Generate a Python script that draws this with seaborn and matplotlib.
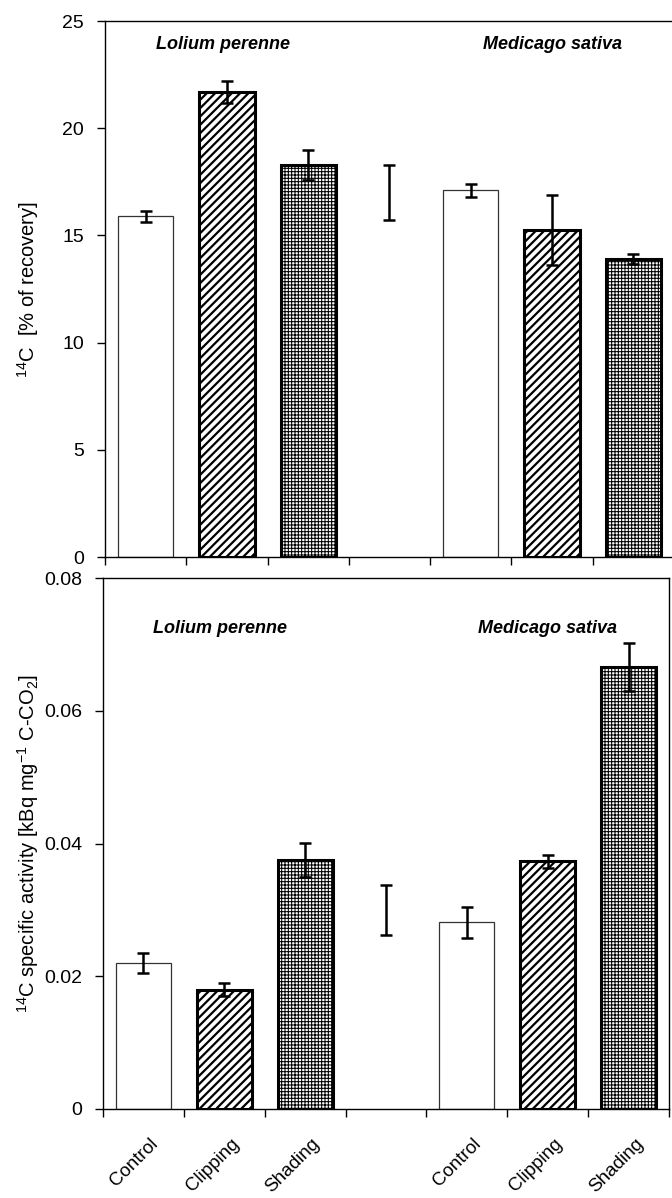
import numpy as np
import pandas as pd
import matplotlib
matplotlib.use("Agg")
import matplotlib.pyplot as plt
import matplotlib.transforms as mtransforms
import seaborn as sns

# data
slots = ["L_Control", "L_Clipping", "L_Shading", "gap", "M_Control", "M_Clipping", "M_Shading"]
treatments = ["Control", "Clipping", "Shading", "", "Control", "Clipping", "Shading"]
bar_slots = ["L_Control", "L_Clipping", "L_Shading", "M_Control", "M_Clipping", "M_Shading"]
hatches = ["", "////", "+++++", "", "////", "+++++"]

recovery = [15.9, 21.7, 18.3, 17.1, 15.25, 13.9]
recovery_err = [0.25, 0.5, 0.7, 0.3, 1.65, 0.25]
recovery_lsd = (17.0, 1.3)

activity = [0.0220, 0.0180, 0.0375, 0.0281, 0.0373, 0.0666]
activity_err = [0.0015, 0.0010, 0.0026, 0.0024, 0.0010, 0.0036]
activity_lsd = (0.0300, 0.0038)

sns.set_style("white")
plt.rcParams["font.family"] = ["Liberation Sans", "DejaVu Sans"]
plt.rcParams["mathtext.fontset"] = "custom"
plt.rcParams["mathtext.rm"] = "Liberation Sans"
plt.rcParams["hatch.linewidth"] = 1.3
for key in ["text.color", "axes.labelcolor", "xtick.color", "ytick.color"]:
    plt.rcParams[key] = "black"


def draw_panel(ax, values, errs, lsd, ylim, yticks, yticklabels, ylabel, label_y):
    df = pd.DataFrame({"slot": bar_slots, "val": values})
    sns.barplot(data=df, x="slot", y="val", order=slots, color="white",
                saturation=1, width=0.68, edgecolor="black", linewidth=1, ax=ax)

    pos = {s: i for i, s in enumerate(slots)}
    for p in ax.patches:
        cx = p.get_x() + p.get_width() / 2
        k = int(round(cx))
        if slots[k] in bar_slots:
            h = hatches[bar_slots.index(slots[k])]
            p.set_facecolor("white")
            if h:
                p.set_hatch(h)
                p.set_linewidth(2.2)
                if hasattr(p, "set_hatch_linewidth"):
                    p.set_hatch_linewidth(1.6 if "/" in h else 0.75)
            else:
                p.set_linewidth(0.9)
                p.set_edgecolor("#333333")

    xs = [pos[s] for s in bar_slots]
    ax.errorbar(xs, values, yerr=errs, fmt="none", ecolor="black",
                elinewidth=1.8, capsize=4.5, capthick=1.8, zorder=5)
    ax.errorbar([pos["gap"]], [lsd[0]], yerr=[lsd[1]], fmt="none", ecolor="black",
                elinewidth=1.8, capsize=4.5, capthick=1.8, zorder=5)

    ax.set_xlim(-0.5, 6.5)
    ax.set_ylim(*ylim)
    ax.set_yticks(yticks)
    ax.set_yticklabels(yticklabels, fontsize=14)
    ax.set_xticks(np.arange(-0.5, 7.0, 1.0))
    ax.set_xticklabels([])
    ax.tick_params(axis="both", which="major", direction="out", length=6, width=1, color="black",
                   left=True, bottom=True)
    ax.tick_params(axis="y", pad=9)
    ax.set_xlabel("")
    ax.set_ylabel(ylabel, fontsize=14.5)
    for sp in ax.spines.values():
        sp.set_color("black")
        sp.set_linewidth(1)

    ax.text(0.95, label_y, "Lolium perenne", transform=ax.get_xaxis_transform(),
            ha="center", va="center", fontsize=13, fontweight="bold", style="italic")
    ax.text(5.0, label_y, "Medicago sativa", transform=ax.get_xaxis_transform(),
            ha="center", va="center", fontsize=13, fontweight="bold", style="italic")


fig = plt.figure(figsize=(6.72, 11.98), dpi=100)
ax1 = fig.add_axes([0.15625, 0.535, 0.8467, 0.4474])
ax2 = fig.add_axes([0.1533, 0.0743, 0.8423, 0.4432])

draw_panel(ax1, recovery, recovery_err, recovery_lsd, (0, 25),
           [0, 5, 10, 15, 20, 25], ["0", "5", "10", "15", "20", "25"],
           r"$^{14}$C  [% of recovery]", 0.956)
ax1.spines["right"].set_visible(False)
ax1.yaxis.set_label_coords(-0.113, 0.5)

draw_panel(ax2, activity, activity_err, activity_lsd, (0, 0.08),
           [0, 0.02, 0.04, 0.06, 0.08], ["0", "0.02", "0.04", "0.06", "0.08"],
           r"$^{14}$C specific activity [kBq mg$^{-1}$ C-CO$_2$]", 0.905)
ax2.yaxis.set_label_coords(-0.11, 0.5)

# treatment labels under the lower panel
centers = [i for i, t in enumerate(treatments) if t]
ax2.set_xticks(centers, minor=True)
ax2.set_xticklabels([t for t in treatments if t], minor=True, rotation=45,
                    ha="right", rotation_mode="anchor", fontsize=13.5)
ax2.tick_params(axis="x", which="minor", length=0, pad=19)
shift = mtransforms.ScaledTranslation(6 / 100, 0, fig.dpi_scale_trans)
for lab in ax2.get_xticklabels(minor=True):
    lab.set_transform(lab.get_transform() + shift)

fig.savefig("out.png", dpi=100)
